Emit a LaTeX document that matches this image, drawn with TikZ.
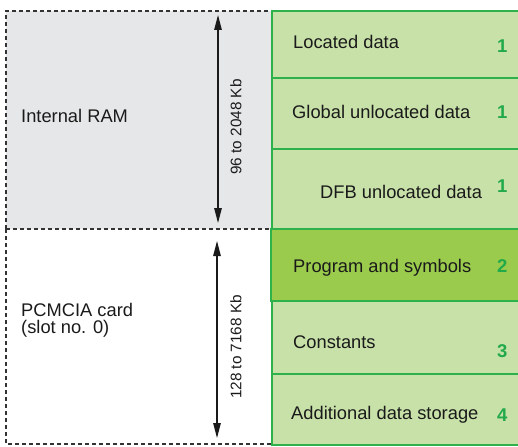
\documentclass[tikz,border=0pt]{standalone}
\usepackage{fontspec}
\setmainfont{Liberation Sans}
\usetikzlibrary{arrows.meta}
\definecolor{lgreen}{HTML}{C8E1A9}
\definecolor{dgreen}{HTML}{9BCB4D}
\definecolor{edgegreen}{HTML}{2EB04B}
\definecolor{numgreen}{HTML}{22A94A}
\definecolor{ramgray}{HTML}{E6E7E8}
\definecolor{txt}{HTML}{1A1A1A}
\tikzset{
  zone/.style={draw=black!80, dashed, dash pattern=on 4pt off 3pt, line width=1.1pt},
  seg/.style={draw=edgegreen, line width=1.3pt},
  lbl/.style={anchor=base west, inner sep=0pt, text=txt, font=\fontsize{18.3}{22}\selectfont},
  num/.style={anchor=base west, inner sep=0pt, text=numgreen, font=\fontsize{18.5}{22}\selectfont\bfseries},
  size/.style={inner sep=0pt, text=txt, rotate=90, font=\fontsize{15.3}{18}\selectfont},
  span/.style={{Triangle[length=15pt,width=7.5pt]}-{Triangle[length=15pt,width=7.5pt]}, line width=1.2pt, draw=txt}
}
\begin{document}
\begin{tikzpicture}[x=1pt,y=-1pt]
\useasboundingbox (0,0) rectangle (518,446);
% left zones
\path[fill=ramgray] (6,11) rectangle (271,229);
\path[zone] (6,229) -- (6,11) -- (271,11);
\path[zone] (6,229) -- (271,229);
\path[zone] (6,229) -- (6,444) -- (271,444);
% green segments
\path[seg, fill=lgreen] (272,11) rectangle (520,78);
\path[seg, fill=lgreen] (272,78) rectangle (520,149);
\path[seg, fill=lgreen] (272,149) rectangle (520,229);
\path[seg, fill=lgreen] (272,301) rectangle (520,374);
\path[seg, fill=lgreen] (272,374) rectangle (520,445);
\path[seg, fill=dgreen] (271,229) rectangle (520,301);
% zone labels
\node[lbl] (ram) at (21,123) {Internal RAM};
\node[lbl, align=left] (pc) at (21,333) {PCMCIA card\\[-5pt](slot no. 0)};
% size arrows
\coordinate (a1) at (218,15);
\coordinate (a2) at (218,223);
\coordinate (b1) at (217,241);
\coordinate (b2) at (217,438);
\draw[span] (a1) -- (a2);
\draw[span] (b1) -- (b2);
\node[size] (s1) at (236,127) {96 to 2048 Kb};
\node[size] (s2) at (236,347) {128 to 7168 Kb};
% segment labels
\node[lbl] (l1) at (293,49) {Located data};
\node[num] (n1) at (497,53) {1};
\node[lbl] (l2) at (292,119) {Global unlocated data};
\node[num] (n2) at (497,119) {1};
\node[lbl] (l3) at (320,198) {DFB unlocated data};
\node[num] (n3) at (497,192) {1};
\node[lbl] (l4) at (293,272) {Program and symbols};
\node[num] (n4) at (497,272) {2};
\node[lbl] (l5) at (293,348) {Constants};
\node[num] (n5) at (497,357) {3};
\node[lbl] (l6) at (291,419) {Additional data storage};
\node[num] (n6) at (497,421) {4};
\end{tikzpicture}
\end{document}
